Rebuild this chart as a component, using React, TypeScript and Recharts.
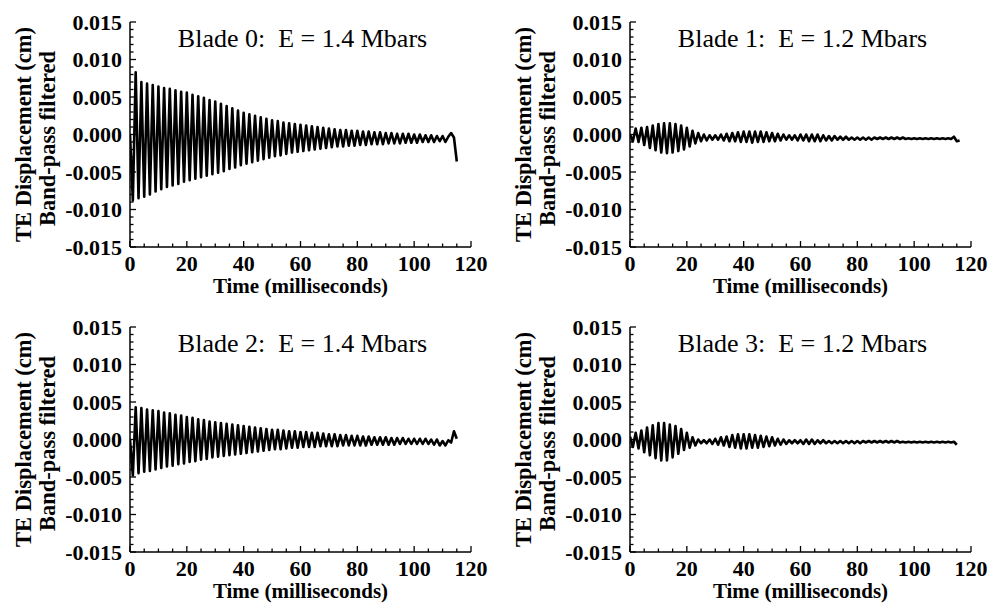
import React from 'react';
import { LineChart, Line, XAxis, YAxis, ReferenceLine } from 'recharts';

// Time samples (milliseconds)
const TIME_MS = [
  0, 1, 2, 3, 4, 5, 6, 7, 8, 9,
  10, 11, 12, 13, 14, 15, 16, 17, 18, 19,
  20, 21, 22, 23, 24, 25, 26, 27, 28, 29,
  30, 31, 32, 33, 34, 35, 36, 37, 38, 39,
  40, 41, 42, 43, 44, 45, 46, 47, 48, 49,
  50, 51, 52, 53, 54, 55, 56, 57, 58, 59,
  60, 61, 62, 63, 64, 65, 66, 67, 68, 69,
  70, 71, 72, 73, 74, 75, 76, 77, 78, 79,
  80, 81, 82, 83, 84, 85, 86, 87, 88, 89,
  90, 91, 92, 93, 94, 95, 96, 97, 98, 99,
  100, 101, 102, 103, 104, 105, 106, 107, 108, 109,
  110, 111, 112, 113, 114, 115, 116,
];

// TE displacement (cm), band-pass filtered
const BLADE0_CM = [
  0.0000, -0.0088, 0.0083, -0.0085, 0.0070, -0.0083, 0.0068, -0.0080, 0.0066, -0.0076,
  0.0064, -0.0073, 0.0062, -0.0070, 0.0061, -0.0068, 0.0059, -0.0066, 0.0057, -0.0063,
  0.0056, -0.0061, 0.0053, -0.0059, 0.0051, -0.0057, 0.0049, -0.0055, 0.0046, -0.0053,
  0.0044, -0.0051, 0.0041, -0.0049, 0.0038, -0.0046, 0.0035, -0.0044, 0.0032, -0.0041,
  0.0029, -0.0039, 0.0027, -0.0037, 0.0025, -0.0035, 0.0023, -0.0033, 0.0021, -0.0031,
  0.0019, -0.0029, 0.0018, -0.0028, 0.0016, -0.0026, 0.0015, -0.0024, 0.0014, -0.0023,
  0.0013, -0.0022, 0.0012, -0.0021, 0.0011, -0.0020, 0.0010, -0.0019, 0.0009, -0.0018,
  0.0008, -0.0017, 0.0007, -0.0016, 0.0006, -0.0016, 0.0006, -0.0015, 0.0005, -0.0015,
  0.0005, -0.0014, 0.0004, -0.0014, 0.0004, -0.0013, 0.0003, -0.0013, 0.0003, -0.0013,
  0.0002, -0.0012, 0.0002, -0.0012, 0.0001, -0.0012, 0.0001, -0.0011, 0.0001, -0.0011,
  0.0000, -0.0011, 0.0000, -0.0010, -0.0001, -0.0010, -0.0001, -0.0010, -0.0002, -0.0009,
  -0.0002, -0.0010, -0.0003, 0.0002, -0.0004, -0.0036,
];

const BLADE1_CM = [
  0.0000, -0.0009, 0.0008, -0.0010, 0.0009, -0.0014, 0.0010, -0.0018, 0.0012, -0.0021,
  0.0014, -0.0024, 0.0015, -0.0025, 0.0015, -0.0024, 0.0014, -0.0022, 0.0012, -0.0020,
  0.0009, -0.0016, 0.0005, -0.0012, 0.0002, -0.0009, 0.0000, -0.0008, -0.0001, -0.0007,
  -0.0001, -0.0007, 0.0000, -0.0008, 0.0001, -0.0009, 0.0002, -0.0009, 0.0003, -0.0010,
  0.0004, -0.0010, 0.0004, -0.0011, 0.0004, -0.0010, 0.0004, -0.0010, 0.0003, -0.0009,
  0.0002, -0.0009, 0.0001, -0.0008, 0.0000, -0.0007, -0.0001, -0.0007, -0.0001, -0.0008,
  0.0000, -0.0008, 0.0000, -0.0009, 0.0000, -0.0009, 0.0000, -0.0009, -0.0001, -0.0008,
  -0.0002, -0.0008, -0.0002, -0.0007, -0.0003, -0.0007, -0.0003, -0.0007, -0.0004, -0.0007,
  -0.0004, -0.0007, -0.0004, -0.0007, -0.0004, -0.0007, -0.0004, -0.0006, -0.0004, -0.0006,
  -0.0004, -0.0006, -0.0004, -0.0006, -0.0004, -0.0006, -0.0004, -0.0006, -0.0005, -0.0006,
  -0.0005, -0.0006, -0.0005, -0.0006, -0.0005, -0.0006, -0.0005, -0.0006, -0.0005, -0.0006,
  -0.0005, -0.0006, -0.0005, -0.0006, -0.0003, -0.0009, -0.0008,
];

const BLADE2_CM = [
  0.0000, -0.0048, 0.0043, -0.0045, 0.0042, -0.0043, 0.0040, -0.0042, 0.0039, -0.0040,
  0.0038, -0.0038, 0.0036, -0.0036, 0.0035, -0.0035, 0.0033, -0.0033, 0.0032, -0.0032,
  0.0030, -0.0030, 0.0029, -0.0029, 0.0027, -0.0027, 0.0026, -0.0026, 0.0024, -0.0024,
  0.0023, -0.0023, 0.0022, -0.0022, 0.0021, -0.0021, 0.0020, -0.0020, 0.0019, -0.0019,
  0.0018, -0.0018, 0.0017, -0.0017, 0.0016, -0.0016, 0.0015, -0.0015, 0.0014, -0.0014,
  0.0013, -0.0013, 0.0013, -0.0013, 0.0012, -0.0012, 0.0011, -0.0011, 0.0011, -0.0011,
  0.0010, -0.0010, 0.0010, -0.0010, 0.0009, -0.0010, 0.0009, -0.0009, 0.0008, -0.0009,
  0.0007, -0.0009, 0.0007, -0.0009, 0.0006, -0.0008, 0.0006, -0.0008, 0.0005, -0.0008,
  0.0005, -0.0008, 0.0004, -0.0008, 0.0004, -0.0007, 0.0003, -0.0007, 0.0003, -0.0007,
  0.0003, -0.0007, 0.0002, -0.0007, 0.0002, -0.0006, 0.0002, -0.0006, 0.0001, -0.0006,
  0.0001, -0.0006, 0.0001, -0.0006, 0.0001, -0.0006, 0.0000, -0.0007, 0.0000, -0.0008,
  -0.0002, -0.0008, -0.0001, -0.0004, 0.0011, 0.0001,
];

const BLADE3_CM = [
  0.0004, -0.0010, 0.0009, -0.0012, 0.0012, -0.0017, 0.0016, -0.0021, 0.0019, -0.0025,
  0.0022, -0.0028, 0.0022, -0.0028, 0.0020, -0.0024, 0.0018, -0.0019, 0.0014, -0.0014,
  0.0009, -0.0011, 0.0003, -0.0008, 0.0000, -0.0005, -0.0001, -0.0005, 0.0000, -0.0006,
  0.0001, -0.0007, 0.0003, -0.0008, 0.0004, -0.0010, 0.0006, -0.0011, 0.0007, -0.0012,
  0.0007, -0.0012, 0.0007, -0.0011, 0.0006, -0.0011, 0.0005, -0.0010, 0.0004, -0.0009,
  0.0003, -0.0008, 0.0001, -0.0007, 0.0000, -0.0006, -0.0001, -0.0005, -0.0001, -0.0005,
  -0.0001, -0.0006, 0.0000, -0.0006, 0.0000, -0.0006, -0.0001, -0.0005, -0.0001, -0.0005,
  -0.0002, -0.0005, -0.0002, -0.0005, -0.0002, -0.0005, -0.0002, -0.0005, -0.0002, -0.0005,
  -0.0002, -0.0005, -0.0002, -0.0004, -0.0002, -0.0004, -0.0002, -0.0004, -0.0002, -0.0004,
  -0.0002, -0.0004, -0.0002, -0.0004, -0.0002, -0.0004, -0.0003, -0.0004, -0.0003, -0.0004,
  -0.0003, -0.0004, -0.0003, -0.0004, -0.0003, -0.0004, -0.0003, -0.0004, -0.0003, -0.0004,
  -0.0003, -0.0004, -0.0003, -0.0004, -0.0003, -0.0007,
];

const PANEL_TITLES = [
  'Blade 0:  E = 1.4 Mbars',
  'Blade 1:  E = 1.2 Mbars',
  'Blade 2:  E = 1.4 Mbars',
  'Blade 3:  E = 1.2 Mbars',
];

const X_TITLE = 'Time (milliseconds)';
const Y_TITLE_1 = 'TE Displacement (cm)';
const Y_TITLE_2 = 'Band-pass filtered';

const X_TICKS = [0, 5, 10, 15, 20, 25, 30, 35, 40, 45, 50, 55, 60, 65, 70, 75, 80, 85, 90, 95, 100, 105, 110, 115, 120];
const X_LABELED = [0, 20, 40, 60, 80, 100, 120];
const Y_TICKS = [
  -0.015, -0.014, -0.013, -0.012, -0.011, -0.01, -0.009, -0.008, -0.007, -0.006,
  -0.005, -0.004, -0.003, -0.002, -0.001, 0, 0.001, 0.002, 0.003, 0.004,
  0.005, 0.006, 0.007, 0.008, 0.009, 0.01, 0.011, 0.012, 0.013, 0.014, 0.015,
];
const Y_LABELED = [-0.015, -0.01, -0.005, 0, 0.005, 0.01, 0.015];

const FONT = "'Liberation Serif', 'Times New Roman', Times, serif";
const TICK_STYLE: React.CSSProperties = { fontFamily: FONT, fontSize: 22, fontWeight: 700, fill: '#000' };
const AXIS_TITLE_STYLE: React.CSSProperties = { fontFamily: FONT, fontSize: 21, fontWeight: 700, fill: '#000' };
const Y_TITLE_STYLE: React.CSSProperties = { fontFamily: FONT, fontSize: 22.5, fontWeight: 700, fill: '#000' };
const TITLE_STYLE: React.CSSProperties = { fontFamily: FONT, fontSize: 26, fontWeight: 400, fill: '#000', whiteSpace: 'pre' };

const isIn = (arr: number[], v: number) => arr.some((m) => Math.abs(m - v) < 1e-9);

const YTick = (props: any) => {
  const { x, y, payload } = props;
  const v = payload.value as number;
  const major = isIn(Y_LABELED, v);
  return (
    <g>
      <line x1={x} y1={y} x2={x + (major ? 6 : 3.5)} y2={y} stroke="#000" strokeWidth={1.3} />
      {major && (
        <text x={x - 8} y={y} dy="0.35em" textAnchor="end" style={TICK_STYLE}>
          {v.toFixed(3)}
        </text>
      )}
    </g>
  );
};

const XTick = (props: any) => {
  const { x, y, payload } = props;
  const v = payload.value as number;
  const major = isIn(X_LABELED, v);
  return (
    <g>
      <line x1={x} y1={y} x2={x} y2={y - (major ? 6 : 3.5)} stroke="#000" strokeWidth={1.3} />
      {major && (
        <text x={x} y={y + 24} textAnchor="middle" style={TICK_STYLE}>
          {String(v)}
        </text>
      )}
    </g>
  );
};

const XTitle = (props: any) => {
  const vb = props.viewBox || {};
  const cx = vb.x + vb.width / 2;
  return (
    <text x={cx} y={vb.y + 46} textAnchor="middle" style={AXIS_TITLE_STYLE}>
      {X_TITLE}
    </text>
  );
};

const YTitle = (props: any) => {
  const vb = props.viewBox || {};
  const cy = vb.y + vb.height / 2;
  const x1 = vb.x + 23;
  const x2 = vb.x + 47;
  return (
    <g>
      <text x={x1} y={cy} dy="0.35em" textAnchor="middle" transform={`rotate(-90, ${x1}, ${cy})`} style={Y_TITLE_STYLE}>
        {Y_TITLE_1}
      </text>
      <text x={x2} y={cy + 4} dy="0.35em" textAnchor="middle" transform={`rotate(-90, ${x2}, ${cy + 4})`} style={Y_TITLE_STYLE}>
        {Y_TITLE_2}
      </text>
    </g>
  );
};

const PanelTitle = (props: any) => {
  const vb = props.viewBox || {};
  const cx = vb.x + vb.width / 2 + 2;
  return (
    <text x={cx} y={vb.y + 25} textAnchor="middle" style={TITLE_STYLE} xmlSpace="preserve">
      {props.text}
    </text>
  );
};

type PanelProps = {
  title: string;
  values: number[];
  left: number;
  top: number;
  width: number;
  height: number;
  marginTop: number;
  marginRight: number;
  xAxisHeight: number;
};

const Panel = ({ title, values, left, top, width, height, marginTop, marginRight, xAxisHeight }: PanelProps) => {
  const data = values.map((v, i) => ({ t: TIME_MS[i], v }));
  return (
    <div style={{ position: 'absolute', left, top, width, height }}>
      <LineChart
        width={width}
        height={height}
        data={data}
        margin={{ top: marginTop, right: marginRight, bottom: 0, left: 0 }}
      >
        <XAxis
          dataKey="t"
          type="number"
          domain={[0, 120]}
          ticks={X_TICKS}
          interval={0}
          allowDataOverflow
          height={xAxisHeight}
          tickSize={0}
          tickMargin={0}
          tickLine={false}
          tick={<XTick />}
          axisLine={{ stroke: '#000', strokeWidth: 1.5 }}
          label={<XTitle />}
        />
        <YAxis
          type="number"
          domain={[-0.015, 0.015]}
          ticks={Y_TICKS}
          interval={0}
          allowDataOverflow
          width={130}
          tickSize={0}
          tickMargin={0}
          tickLine={false}
          tick={<YTick />}
          axisLine={{ stroke: '#000', strokeWidth: 1.5 }}
          label={<YTitle />}
        />
        <ReferenceLine y={0.015} stroke="none" label={<PanelTitle text={title} />} />
        <Line
          type="linear"
          dataKey="v"
          stroke="#000"
          strokeWidth={2.6}
          strokeLinejoin="round"
          dot={false}
          activeDot={false}
          isAnimationActive={false}
        />
      </LineChart>
    </div>
  );
};

export default function App() {
  return (
    <div style={{ position: 'absolute', left: 0, top: 0, width: 989, height: 605, background: '#fff', overflow: 'hidden' }}>
      <Panel title={PANEL_TITLES[0]} values={BLADE0_CM} left={0} top={0} width={495} height={300} marginTop={22} marginRight={24} xAxisHeight={53} />
      <Panel title={PANEL_TITLES[1]} values={BLADE1_CM} left={500} top={0} width={489} height={300} marginTop={22} marginRight={18} xAxisHeight={53} />
      <Panel title={PANEL_TITLES[2]} values={BLADE2_CM} left={0} top={300} width={495} height={305} marginTop={27} marginRight={24} xAxisHeight={53} />
      <Panel title={PANEL_TITLES[3]} values={BLADE3_CM} left={500} top={300} width={489} height={305} marginTop={27} marginRight={18} xAxisHeight={53} />
    </div>
  );
}
